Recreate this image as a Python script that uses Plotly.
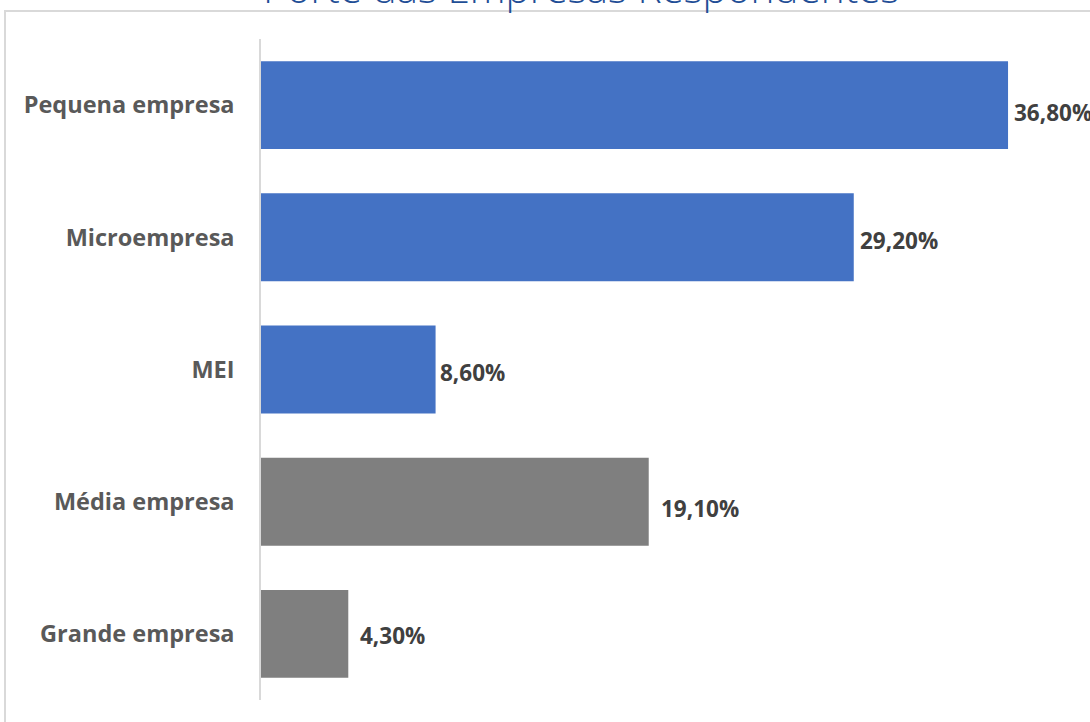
import plotly.graph_objects as go

categories = ["Pequena empresa", "Microempresa", "MEI", "Média empresa", "Grande empresa"]
values = [36.8, 29.2, 8.6, 19.1, 4.3]
labels = ["36,80%", "29,20%", "8,60%", "19,10%", "4,30%"]
bar_colors = ["#4472C4", "#4472C4", "#4472C4", "#7F7F7F", "#7F7F7F"]
label_xshift = [4, 4, 2, 10, 10]
label_yshift = [-7, -3, -3, -7, -2]
title_text = "Porte das Empresas Respondentes"

W, H = 1090, 722
ML, MR, MT, MB = 261, 0, 39, 22
plot_w = W - ML - MR
plot_h = H - MT - MB

fig = go.Figure()
fig.add_trace(go.Bar(
    y=categories,
    x=values,
    orientation="h",
    marker=dict(color=bar_colors, line=dict(width=0)),
    hoverinfo="skip",
))

for c, v, t, dx, dy in zip(categories, values, labels, label_xshift, label_yshift):
    fig.add_annotation(
        x=v, y=c, text=t, showarrow=False, xanchor="left", yanchor="middle",
        xshift=dx, yshift=dy,
        font=dict(family="Open Sans", size=22.5, color="#404040", weight="bold"),
    )

def px_to_paper_x(px):
    return (px - ML) / plot_w

def px_to_paper_y(py):
    return (H - MB - py) / plot_h

# outer border of chart area (partially cropped)
fig.add_shape(
    type="rect", xref="paper", yref="paper",
    x0=px_to_paper_x(5), x1=px_to_paper_x(1200),
    y0=px_to_paper_y(760), y1=px_to_paper_y(11),
    line=dict(color="#D9D9D9", width=2), fillcolor="rgba(0,0,0,0)", layer="below",
)

# title (cropped at top)
fig.add_annotation(
    text=title_text, xref="paper", yref="paper",
    x=px_to_paper_x(581), y=px_to_paper_y(17),
    xanchor="center", yanchor="bottom", showarrow=False,
    font=dict(family="Open Sans", size=40.5, color="#1F4E96", weight=300),
)

fig.update_layout(
    width=W, height=H,
    margin=dict(l=ML, r=MR, t=MT, b=MB, pad=0),
    paper_bgcolor="white", plot_bgcolor="white",
    bargap=0.335,
    showlegend=False,
    xaxis=dict(range=[0, plot_w / 20.3], visible=False, showgrid=False, zeroline=False, fixedrange=True),
    yaxis=dict(
        autorange="reversed", showline=True, linecolor="#D9D9D9", linewidth=1.5,
        showgrid=False, ticks="", ticklabelstandoff=20, fixedrange=True,
        tickfont=dict(family="Open Sans", size=23.5, color="#595959", weight="bold"),
    ),
)

fig.write_html(
    "out.html",
    config={"displayModeBar": False},
    post_script="document.body.style.margin='0';document.body.style.overflow='hidden';",
)
